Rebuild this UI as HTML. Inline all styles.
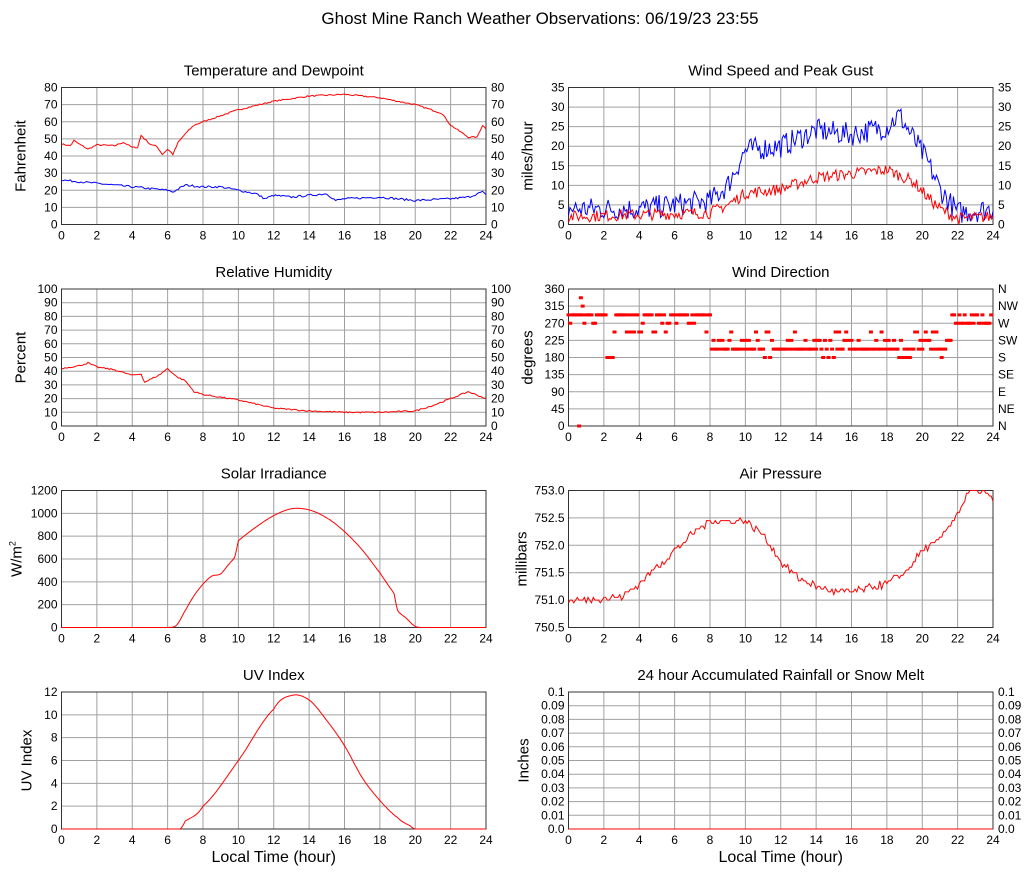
<!DOCTYPE html>
<html><head><meta charset="utf-8"><style>
body{margin:0;background:#fff}
svg{display:block;font-family:"Liberation Sans",sans-serif}
</style></head><body>
<svg id="s" width="1027" height="878" xmlns="http://www.w3.org/2000/svg">
<text x="540" y="24" font-size="17" text-anchor="middle">Ghost Mine Ranch Weather Observations: 06/19/23 23:55</text>
</svg>
<script>
var S=document.getElementById('s'),out='';
var seed=7;function rnd(){seed=(seed*16807)%2147483647;return seed/2147483647;}
function interp(k,h,sm){for(var i=0;i<k.length-1;i++){if(h>=k[i][0]&&h<=k[i+1][0]){var t=(h-k[i][0])/(k[i+1][0]-k[i][0]||1);
 if(sm){var p0=k[Math.max(0,i-1)][1],p1=k[i][1],p2=k[i+1][1],p3=k[Math.min(k.length-1,i+2)][1];
  return 0.5*((2*p1)+(-p0+p2)*t+(2*p0-5*p1+4*p2-p3)*t*t+(-p0+3*p1-3*p2+p3)*t*t*t);}
 return k[i][1]+t*(k[i+1][1]-k[i][1]);}}return k[k.length-1][1];}
function panel(o){
 var X0=o.col?568.5:61.5,W=424.5,Y0=87.5+201.5*o.row,H=137;
 var g='';
 for(var i=0;i<=12;i++){var x=X0+W*i/12;g+='<line x1="'+x+'" y1="'+Y0+'" x2="'+x+'" y2="'+(Y0+H)+'" stroke="#a0a0a0"/>';
  g+='<text x="'+x+'" y="'+(Y0+H+15)+'" font-size="12" text-anchor="middle">'+(i*2)+'</text>';}
 var n=o.labels.length-1;
 for(var j=0;j<=n;j++){var y=Y0+H-H*j/n;g+='<line x1="'+X0+'" y1="'+y+'" x2="'+(X0+W)+'" y2="'+y+'" stroke="#a0a0a0"/>';
  g+='<text x="'+(X0-4)+'" y="'+(y+4)+'" font-size="12" text-anchor="end">'+o.labels[j]+'</text>';
  if(o.right)g+='<text x="'+(X0+W+5)+'" y="'+(y+4)+'" font-size="12">'+o.right[j]+'</text>';}
 g+='<rect x="'+X0+'" y="'+Y0+'" width="'+W+'" height="'+H+'" fill="none" stroke="#333"/>';
 g+='<text x="'+(X0+W/2)+'" y="'+(Y0-12)+'" font-size="15" text-anchor="middle">'+o.title+'</text>';
 g+='<text transform="translate('+(X0-o.yoff)+','+(Y0+H/2)+') rotate(-90)" font-size="15" text-anchor="middle">'+o.ylab+'</text>';
 function px(h){return X0+W*h/24}function py(v){return Y0+H-H*(v-o.min)/(o.max-o.min)}
 (o.series||[]).forEach(function(sr){var p=[];for(var h=0;h<=24.001;h+=sr.dt||0.1){var v=interp(sr.k,h,sr.sm)+(rnd()-0.5)*(sr.noise||0);if(sr.q)v=Math.round(v/sr.q)*sr.q;v=Math.max(o.min,Math.min(o.max,v));p.push(px(h).toFixed(1)+','+py(v).toFixed(1));}
  g+='<polyline points="'+p.join(' ')+'" fill="none" stroke="'+sr.c+'" stroke-width="1"/>';});
 if(o.dots)o.dots.forEach(function(d){g+='<rect x="'+(px(d[0])-2)+'" y="'+(py(d[1])-1.5)+'" width="4" height="3" fill="red"/>';});
 if(o.xlab)g+='<text x="'+(X0+W/2)+'" y="'+(Y0+H+33)+'" font-size="16" text-anchor="middle">Local Time (hour)</text>';
 out+=g;}
function rng(a,b,s,f){var r=[];for(var v=a;v<=b+1e-9;v+=s)r.push(f?f(v):String(Math.round(v*100)/100));return r;}
var t80=rng(0,80,10);
panel({row:0,col:0,title:'Temperature and Dewpoint',ylab:'Fahrenheit',yoff:36,labels:t80,right:t80,min:0,max:80,series:[
 {c:'red',noise:0.8,k:[[0,47],[0.5,46],[0.7,49],[1,47],[1.5,44],[2,46.5],[3,46],[3.5,48],[4,45],[4.3,45],[4.5,52],[5,47],[5.4,45.5],[5.7,41],[6,44],[6.3,41],[6.6,48],[7,53],[7.5,58],[8,60],[10,67],[12,72],[14,75],[16,76],[18,74],[20,70],[21.5,65],[22,58],[23,51],[23.5,51],[23.8,58],[24,56]]},
 {c:'blue',noise:1.2,k:[[0,26],[1,25],[2,24],[3,23],[4,22],[5,21],[6,20],[6.3,19],[7,23],[8,22],[9,22],[10,20],[11,18],[11.5,15],[12,17],[13,16],[14,17],[15,18],[15.5,14],[16,15],[18,16],[20,14],[22,15],[23,16],[23.8,19],[24,17]]}]});
var w35=rng(0,35,5);
panel({row:0,col:1,title:'Wind Speed and Peak Gust',ylab:'miles/hour',yoff:36,labels:w35,right:w35,min:0,max:35,series:[
 {c:'blue',noise:6,dt:0.08,k:[[0,4],[4,4],[8,6],[9,10],[10,19],[12,20],[14,24],[16,23],[18,25],[18.7,28],[19.5,22],[20.3,16],[21,9],[22,3],[24,4]]},
 {c:'red',noise:3,dt:0.08,k:[[0,2],[8,3],[9,5],[10,8],[12,9],[14,12],[16,13],[18,14],[19.5,11],[20.3,7],[21,4],[22,1.5],[24,2]]}]});
var p100=rng(0,100,10);
panel({row:1,col:0,title:'Relative Humidity',ylab:'Percent',yoff:36,labels:p100,right:p100,min:0,max:100,series:[
 {c:'red',noise:1,k:[[0,42],[1,44],[1.5,46],[2,43],[3,41],[4,37],[4.5,38],[4.7,32],[5.5,37],[6,42],[6.5,36],[7,33],[7.5,25],[8,23],[10,19],[12,13],[14,11],[16,10],[18,10],[20,11],[21,15],[22,20],[23,25],[24,20]]}]});
var dots=[[0.6,0],[0.7,337],[0.8,315]];
for(var h=0;h<24;h+=0.1){var v;
 if(h<2.2)v=rnd()<0.8?292:(rnd()<0.5?270:247);
 else if(h<2.6)v=rnd()<0.5?180:292;
 else if(h<8)v=rnd()<0.7?292:(rnd()<0.5?270:247);
 else if(h<21.7)v=rnd()<0.55?202:(rnd()<0.6?225:(rnd()<0.5?180:247));
 else v=rnd()<0.6?292:270;
 dots.push([h,v]);}
panel({row:1,col:1,title:'Wind Direction',ylab:'degrees',yoff:36,labels:rng(0,360,45),right:['N','NE','E','SE','S','SW','W','NW','N'],min:0,max:360,dots:dots});
panel({row:2,col:0,title:'Solar Irradiance',ylab:'W/m<tspan font-size="9" dy="-6">2</tspan>',yoff:40,labels:rng(0,1200,200),min:0,max:1200,series:[
 {c:'red',noise:0,dt:0.05,sm:1,k:[[0,0],[6,0],[6.5,20],[7,150],[7.5,280],[8,380],[8.5,450],[9,470],[9.5,560],[9.8,620],[10,760],[11,880],[12,980],[13,1040],[14,1030],[15,960],[16,840],[17,680],[18,480],[18.8,300],[19,150],[19.5,80],[20,10],[20.5,0],[24,0]]}]});
panel({row:2,col:1,title:'Air Pressure',ylab:'millibars',yoff:42,labels:rng(750.5,753,0.5,function(v){return v.toFixed(1)}),min:750.5,max:753,series:[
 {c:'red',noise:0.12,q:0.05,k:[[0,751.0],[3,751.05],[4,751.3],[5,751.6],[6,751.9],[7,752.2],[8,752.45],[10,752.45],[11,752.2],[12,751.7],[13,751.4],[14,751.25],[15,751.15],[16,751.15],[18,751.3],[19,751.5],[20,751.9],[21,752.1],[22,752.6],[22.7,753],[23.5,753],[24,752.8]]}]});
panel({row:3,col:0,title:'UV Index',ylab:'UV Index',yoff:30,labels:rng(0,12,2),min:0,max:12,xlab:1,series:[
 {c:'red',noise:0,dt:0.05,sm:1,k:[[0,0],[6.7,0],[7,0.7],[8,2],[10,6],[12,10.5],[13,11.7],[14,11.3],[15,9.5],[16,7.3],[17,4.5],[18,2.5],[19,1],[19.7,0.3],[20,0],[24,0]]}]});
var r=rng(0,0.1,0.01,function(v){v=Math.round(v*100)/100;return v==0?'0.0':String(v)});
panel({row:3,col:1,title:'24 hour Accumulated Rainfall or Snow Melt',ylab:'Inches',yoff:40,labels:r,right:r,min:0,max:0.1,xlab:1,series:[{c:'red',k:[[0,0],[24,0]]}]});
S.insertAdjacentHTML('beforeend',out);
</script>
</body></html>
